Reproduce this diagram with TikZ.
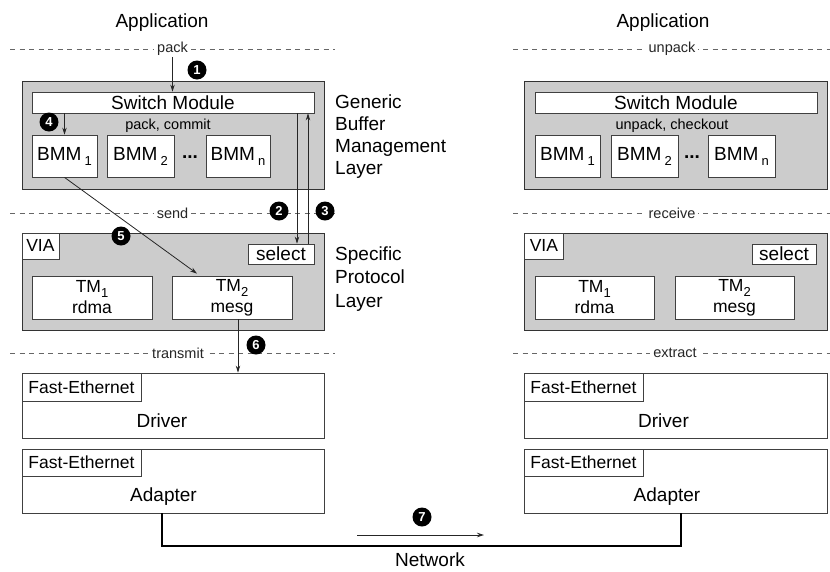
\documentclass[tikz,border=0pt]{standalone}
\usepackage{fontspec}
\setmainfont{Liberation Sans}
\usetikzlibrary{arrows.meta,calc}
\newcommand\mysub[1]{{\fontsize{13}{13}\selectfont\raisebox{-5pt}{#1}}}
\begin{document}
\begin{tikzpicture}[x=1pt,y=-1pt,
  graybox/.style={draw=black!80, fill=black!20, line width=1pt, inner sep=0pt},
  wbox/.style={draw=black!75, fill=white, line width=0.8pt, inner sep=0pt},
  big/.style={font=\fontsize{19}{22}\selectfont},
  mid/.style={font=\fontsize{17.5}{21}\selectfont},
  small/.style={font=\fontsize{14.5}{16}\selectfont},
  lbl/.style={small, fill=white, inner xsep=3pt, inner ysep=1pt, text=black!85},
  sep/.style={draw=black!60, dash pattern=on 5pt off 4.5pt, line width=0.8pt},
  arr/.style={draw=black!85, line width=0.8pt, -{Stealth[length=7pt,width=4.5pt]}},
  badge/.style={circle, fill=black, text=white, inner sep=0pt, minimum size=19pt, font=\fontsize{13}{13}\selectfont\bfseries},
  txt/.style={inner sep=0pt},
]
\useasboundingbox (0,0) rectangle (830,571);

% ---------- titles ----------
\node[big, txt, anchor=base] (appL) at (162,27) {Application};
\node[big, txt, anchor=base] (appR) at (663,27) {Application};

% ---------- dashed separators ----------
\coordinate (s1a) at (10,49);  \coordinate (s1b) at (335,49);
\coordinate (s2a) at (10,213); \coordinate (s2b) at (335,213);
\coordinate (s3a) at (10,353); \coordinate (s3b) at (335,353);
\coordinate (r1a) at (513,49);  \coordinate (r1b) at (830,49);
\coordinate (r2a) at (513,213); \coordinate (r2b) at (830,213);
\coordinate (r3a) at (513,353); \coordinate (r3b) at (830,353);
\foreach \a/\b in {s1a/s1b,s2a/s2b,s3a/s3b,r1a/r1b,r2a/r2b,r3a/r3b}
  \draw[sep] (\a) -- (\b);
\node[lbl] (pack) at (172.5,49) {pack};
\node[lbl] (send) at (172.5,213) {send};
\node[lbl] (transmit) at (178,353) {transmit};
\node[lbl] (unpack) at (672,49) {unpack};
\node[lbl] (receive) at (672,213) {receive};
\node[lbl] (extract) at (675,353) {extract\hspace{8pt}};

% ---------- left: generic buffer management ----------
\node[graybox, minimum width=302pt, minimum height=108pt] (gbm) at (173,135) {};
\node[wbox, minimum width=282pt, minimum height=21pt, big] (sw) at (173,102.5) {Switch Module};
\node[small, txt] (pc) at (168,126) {pack, commit};
\node[wbox, minimum width=65pt, minimum height=42pt, big] (bmm1) at (64.5,156) {BMM\hspace{3pt}\mysub{1}};
\node[wbox, minimum width=67pt, minimum height=42pt, big] (bmm2) at (140.5,156) {BMM\hspace{3pt}\mysub{2}};
\node[big, txt] (dots) at (190,157) {\textbf{...}};
\node[wbox, minimum width=64pt, minimum height=42pt, big] (bmmn) at (238,156) {BMM\hspace{3pt}\mysub{n}};
\node[big, anchor=base west, align=left, txt] (gbml) at (335,174) {Generic\\Buffer\\Management\\Layer};

% ---------- left: specific protocol ----------
\node[graybox, minimum width=302pt, minimum height=97pt] (via) at (173,281.5) {};
\node[wbox, minimum width=37pt, minimum height=26pt, anchor=north west, mid] (vial) at (via.north west) {VIA};
\node[wbox, minimum width=66pt, minimum height=20pt, big] (sel) at (281,254) {select};
\node[wbox, minimum width=120pt, minimum height=43pt, align=center, mid] (tm1) at (92,297.5) {TM\mysub{1}\\rdma};
\node[wbox, minimum width=120pt, minimum height=43pt, align=center, mid] (tm2) at (232,297.5) {TM\mysub{2}\\mesg};
\node[anchor=base west, align=left, txt, font=\fontsize{19}{23.5}\selectfont] (spl) at (335,307) {Specific\\Protocol\\Layer};

% ---------- left: driver / adapter ----------
\node[wbox, minimum width=302pt, minimum height=65pt] (drv) at (173,405.5) {};
\node[wbox, minimum width=119pt, minimum height=28pt, anchor=north west, mid] (fe1) at (drv.north west) {Fast-Ethernet};
\node[big, txt] (drvt) at (162,421) {Driver};
\node[wbox, minimum width=302pt, minimum height=64pt] (adp) at (173,481) {};
\node[wbox, minimum width=119pt, minimum height=27pt, anchor=north west, mid] (fe2) at (adp.north west) {Fast-Ethernet};
\node[big, txt] (adpt) at (163.5,497) {Adapter};

% ---------- right: generic buffer management ----------
\node[graybox, minimum width=303pt, minimum height=108pt] (gbmR) at (676,135) {};
\node[wbox, minimum width=282pt, minimum height=21pt, big] (swR) at (676,102.5) {Switch Module};
\node[small, txt] (uc) at (672,126) {unpack, checkout};
\node[wbox, minimum width=65pt, minimum height=42pt, big] (bmm1R) at (567.5,156) {BMM\hspace{3pt}\mysub{1}};
\node[wbox, minimum width=67pt, minimum height=42pt, big] (bmm2R) at (644.5,156) {BMM\hspace{3pt}\mysub{2}};
\node[big, txt] (dotsR) at (692,157) {\textbf{...}};
\node[wbox, minimum width=67pt, minimum height=42pt, big] (bmmnR) at (741.5,156) {BMM\hspace{3pt}\mysub{n}};

% ---------- right: specific protocol ----------
\node[graybox, minimum width=303pt, minimum height=97pt] (viaR) at (676,281.5) {};
\node[wbox, minimum width=39pt, minimum height=26pt, anchor=north west, mid] (vialR) at (viaR.north west) {VIA};
\node[wbox, minimum width=64pt, minimum height=20pt, big] (selR) at (784,254) {select};
\node[wbox, minimum width=119pt, minimum height=43pt, align=center, mid] (tm1R) at (594.5,297.5) {TM\mysub{1}\\rdma};
\node[wbox, minimum width=119pt, minimum height=43pt, align=center, mid] (tm2R) at (734.5,297.5) {TM\mysub{2}\\mesg};

% ---------- right: driver / adapter ----------
\node[wbox, minimum width=303pt, minimum height=65pt] (drvR) at (675.5,405.5) {};
\node[wbox, minimum width=119pt, minimum height=28pt, anchor=north west, mid] (fe1R) at (drvR.north west) {Fast-Ethernet};
\node[big, txt] (drvtR) at (663.5,421) {Driver};
\node[wbox, minimum width=303pt, minimum height=64pt] (adpR) at (675.5,481) {};
\node[wbox, minimum width=119pt, minimum height=27pt, anchor=north west, mid] (fe2R) at (adpR.north west) {Fast-Ethernet};
\node[big, txt] (adptR) at (667,497) {Adapter};

% ---------- connectors ----------
\coordinate (x2) at (297,0);
\coordinate (x3) at (308,0);
\coordinate (x6) at (238,0);
\draw[arr] (pack.south) -- (pack.south |- sw.north);
\draw[arr] (bmm1.north |- sw.south) -- (bmm1.north);
\draw[arr] (sw.south -| x2) -- (sel.north -| x2);
\draw[arr] (sel.north -| x3) -- (sw.south -| x3);
\draw[arr] (bmm1.south) -- ([xshift=-35pt,yshift=2pt]tm2.north);
\draw[arr] (tm2.south -| x6) -- (drv.north -| x6);

% network
\coordinate (nl) at (162,546);
\coordinate (nr) at (681,546);
\draw[line width=2pt, line join=miter] (adp.south -| nl) -- (nl) -- (nr) -- (adpR.south -| nr);
\coordinate (a7s) at (357,535);
\coordinate (a7e) at (484,535);
\draw[arr] (a7s) -- (a7e);
\node[big, txt, anchor=base] (net) at (430,566) {Network};

% ---------- badges ----------
\node[badge] (b1) at (197,70) {1};
\node[badge] (b2) at (279,211) {2};
\node[badge] (b3) at (325,211) {3};
\node[badge] (b4) at (49,122) {4};
\node[badge] (b5) at (121,236) {5};
\node[badge] (b6) at (256,345) {6};
\node[badge] (b7) at (422,517) {7};
\end{tikzpicture}
\end{document}
